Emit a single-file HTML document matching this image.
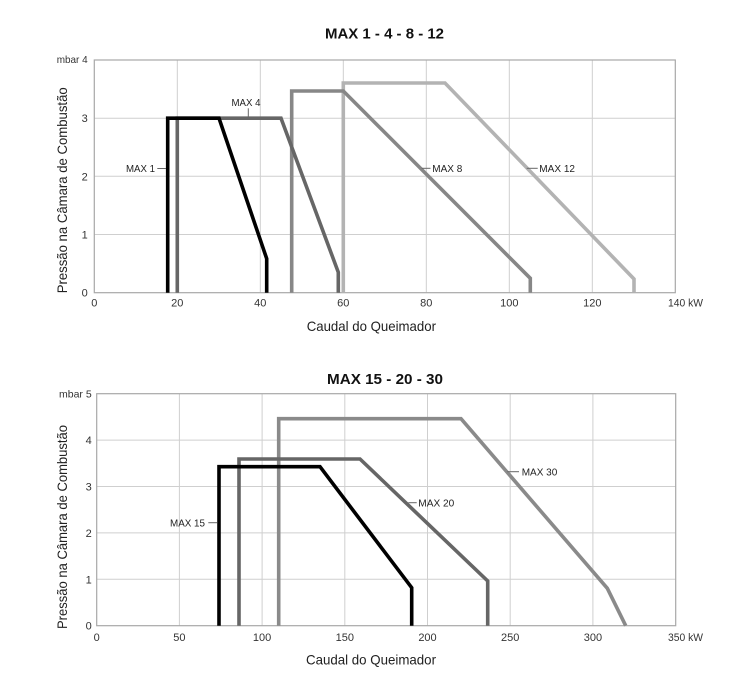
<!DOCTYPE html>
<html>
<head>
<meta charset="utf-8">
<style>
html,body{margin:0;padding:0;background:#fff;}
svg{display:block;}
text{font-family:"Liberation Sans",Arial,sans-serif;}
</style>
</head>
<body>
<svg width="750" height="695" viewBox="0 0 750 695" xmlns="http://www.w3.org/2000/svg">
<rect x="0" y="0" width="750" height="695" fill="#fff"/>

<!-- ========== CHART 1 ========== -->
<text x="325" y="38.5" font-size="15" font-weight="bold" fill="#111" textLength="119" lengthAdjust="spacingAndGlyphs">MAX 1 - 4 - 8 - 12</text>

<g stroke="#cfcfcf" stroke-width="1" fill="none">
  <line x1="177.3" y1="60" x2="177.3" y2="292.7"/>
  <line x1="260.3" y1="60" x2="260.3" y2="292.7"/>
  <line x1="343.3" y1="60" x2="343.3" y2="292.7"/>
  <line x1="426.3" y1="60" x2="426.3" y2="292.7"/>
  <line x1="509.3" y1="60" x2="509.3" y2="292.7"/>
  <line x1="592.3" y1="60" x2="592.3" y2="292.7"/>
  <line x1="94.3" y1="234.5" x2="675.3" y2="234.5"/>
  <line x1="94.3" y1="176.3" x2="675.3" y2="176.3"/>
  <line x1="94.3" y1="118.2" x2="675.3" y2="118.2"/>
</g>
<rect x="94.3" y="60" width="581" height="232.7" fill="none" stroke="#a8a8a8" stroke-width="1.2"/>

<g fill="none" stroke-width="3.6" stroke-linejoin="miter">
  <polyline stroke="#b3b3b3" points="343.3,292.7 343.3,83 445,83 634,279 634,292.7"/>
  <polyline stroke="#878787" points="291.7,292.7 291.7,91 343.3,91 530.3,278.3 530.3,292.7"/>
  <polyline stroke="#666" points="177.3,292.7 177.3,118.2 281,118.2 338.3,272.3 338.3,292.7"/>
  <polyline stroke="#000" points="167.7,292.7 167.7,118.2 219,118.2 266.7,258.7 266.7,292.7"/>
</g>

<!-- series labels chart 1 -->
<g font-size="10.5" fill="#222">
  <text x="231.5" y="106" textLength="29" lengthAdjust="spacingAndGlyphs">MAX 4</text>
  <text x="126" y="172" textLength="29" lengthAdjust="spacingAndGlyphs">MAX 1</text>
  <text x="432.3" y="172" textLength="30" lengthAdjust="spacingAndGlyphs">MAX 8</text>
  <text x="539.3" y="172" textLength="35.7" lengthAdjust="spacingAndGlyphs">MAX 12</text>
</g>
<g stroke="#666" stroke-width="1">
  <line x1="248.3" y1="108.3" x2="248.3" y2="117"/>
  <line x1="157.3" y1="168.5" x2="166" y2="168.5"/>
  <line x1="421.7" y1="168.3" x2="430.5" y2="168.3"/>
  <line x1="526.7" y1="168.3" x2="537.7" y2="168.3"/>
</g>

<!-- ticks chart 1 -->
<g font-size="11" fill="#333" text-anchor="middle">
  <text x="94.3" y="306.5">0</text>
  <text x="177.3" y="306.5">20</text>
  <text x="260.3" y="306.5">40</text>
  <text x="343.3" y="306.5">60</text>
  <text x="426.3" y="306.5">80</text>
  <text x="509.3" y="306.5">100</text>
  <text x="592.3" y="306.5">120</text>
</g>
<text x="668" y="306.5" font-size="11" fill="#333" textLength="35" lengthAdjust="spacingAndGlyphs">140 kW</text>
<g font-size="11" fill="#333" text-anchor="end">
  <text x="87.7" y="296.7">0</text>
  <text x="87.7" y="238.5">1</text>
  <text x="87.7" y="180.3">2</text>
  <text x="87.7" y="122.2">3</text>
</g>
<text x="56.7" y="63" font-size="10.5" fill="#333" textLength="31" lengthAdjust="spacingAndGlyphs">mbar 4</text>

<text x="306.7" y="331" font-size="14" fill="#222" textLength="129.3" lengthAdjust="spacingAndGlyphs">Caudal do Queimador</text>
<text transform="translate(67.2,293.3) rotate(-90)" x="0" y="0" font-size="14" fill="#222" textLength="206" lengthAdjust="spacingAndGlyphs">Pressão na Câmara de Combustão</text>

<!-- ========== CHART 2 ========== -->
<text x="327" y="384" font-size="15" font-weight="bold" fill="#111" textLength="116" lengthAdjust="spacingAndGlyphs">MAX 15 - 20 - 30</text>

<g stroke="#cfcfcf" stroke-width="1" fill="none">
  <line x1="179.4" y1="393.7" x2="179.4" y2="625.7"/>
  <line x1="262.1" y1="393.7" x2="262.1" y2="625.7"/>
  <line x1="344.8" y1="393.7" x2="344.8" y2="625.7"/>
  <line x1="427.5" y1="393.7" x2="427.5" y2="625.7"/>
  <line x1="510.2" y1="393.7" x2="510.2" y2="625.7"/>
  <line x1="592.9" y1="393.7" x2="592.9" y2="625.7"/>
  <line x1="96.7" y1="579.3" x2="675.7" y2="579.3"/>
  <line x1="96.7" y1="532.9" x2="675.7" y2="532.9"/>
  <line x1="96.7" y1="486.5" x2="675.7" y2="486.5"/>
  <line x1="96.7" y1="440.1" x2="675.7" y2="440.1"/>
</g>
<rect x="96.7" y="393.7" width="579" height="232" fill="none" stroke="#a8a8a8" stroke-width="1.2"/>

<g fill="none" stroke-width="3.6" stroke-linejoin="miter">
  <polyline stroke="#8a8a8a" points="278.7,625.7 278.7,418.7 461,418.7 607.3,588.3 625.7,625.7"/>
  <polyline stroke="#666" points="239,625.7 239,459 360,459 487.7,581 487.7,625.7"/>
  <polyline stroke="#000" points="219,625.7 219,466.7 320,466.7 411.7,587.7 411.7,625.7"/>
</g>

<g font-size="10.5" fill="#222">
  <text x="170" y="526.5" textLength="35" lengthAdjust="spacingAndGlyphs">MAX 15</text>
  <text x="418.3" y="506.5" textLength="36" lengthAdjust="spacingAndGlyphs">MAX 20</text>
  <text x="521.7" y="475.5" textLength="35.6" lengthAdjust="spacingAndGlyphs">MAX 30</text>
</g>
<g stroke="#666" stroke-width="1">
  <line x1="208.3" y1="522.7" x2="217" y2="522.7"/>
  <line x1="408.3" y1="502.7" x2="416.7" y2="502.7"/>
  <line x1="507.3" y1="471.7" x2="519" y2="471.7"/>
</g>

<g font-size="11" fill="#333" text-anchor="middle">
  <text x="96.7" y="641">0</text>
  <text x="179.4" y="641">50</text>
  <text x="262.1" y="641">100</text>
  <text x="344.8" y="641">150</text>
  <text x="427.5" y="641">200</text>
  <text x="510.2" y="641">250</text>
  <text x="592.9" y="641">300</text>
</g>
<text x="668" y="641" font-size="11" fill="#333" textLength="35" lengthAdjust="spacingAndGlyphs">350 kW</text>
<g font-size="11" fill="#333" text-anchor="end">
  <text x="91.7" y="629.7">0</text>
  <text x="91.7" y="583.3">1</text>
  <text x="91.7" y="536.9">2</text>
  <text x="91.7" y="490.5">3</text>
  <text x="91.7" y="444.1">4</text>
</g>
<text x="59" y="397.5" font-size="10.5" fill="#333" textLength="32.7" lengthAdjust="spacingAndGlyphs">mbar 5</text>

<text x="306" y="664.5" font-size="14" fill="#222" textLength="130" lengthAdjust="spacingAndGlyphs">Caudal do Queimador</text>
<text transform="translate(67.2,629) rotate(-90)" x="0" y="0" font-size="14" fill="#222" textLength="204" lengthAdjust="spacingAndGlyphs">Pressão na Câmara de Combustão</text>
</svg>
</body>
</html>
